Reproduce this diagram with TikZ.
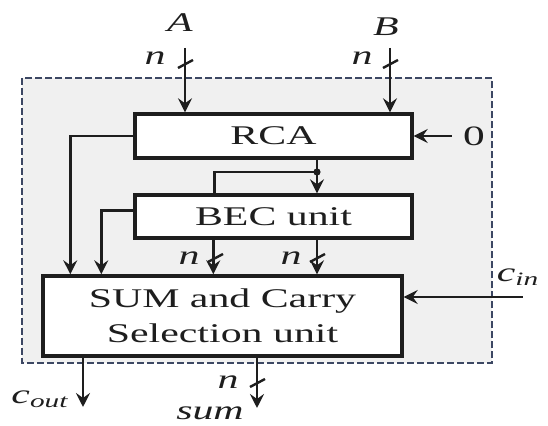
\documentclass[tikz,border=0pt]{standalone}
\usepackage{fontspec}
\setmainfont[FakeStretch=1.55]{Liberation Serif}
\usetikzlibrary{arrows.meta}
\definecolor{frameblue}{HTML}{3C4763}
\definecolor{panelgray}{HTML}{F0F0F0}
\definecolor{ink}{HTML}{1E1E1E}

\begin{document}
\begin{tikzpicture}[x=0.5pt, y=-0.5pt, line width=1.4pt, ink, >={Stealth[length=7pt,width=7pt,inset=2.5pt]}]
            \tikzstyle{block} = [draw, fill=white, line width=1.7pt, inner sep=0pt, align=center, font=\fontsize{13.5}{17.5}\selectfont]
            \tikzstyle{lbl}   = [inner sep=0pt, font=\fontsize{13.5}{15}\selectfont\itshape]
            \tikzstyle{bus}   = [line width=1.2pt]

            \useasboundingbox (0,0) rectangle (548,426);

            % Dashed frame .........................
            \draw[frameblue, dash pattern=on 3.5pt off 1.5pt, line width=1.2pt, fill=panelgray] (22,78) rectangle (492,363);

            % Blocks .........................
            \node[block, minimum width=138.5pt, minimum height=22pt] (rca) at (273.5,136) {RCA};
            \node[block, minimum width=138.5pt, minimum height=21.5pt] (bec) at (273.5,216.5) {BEC unit};
            \node[block, minimum width=179.5pt, minimum height=40pt] (sum) at (222.5,316) {SUM and Carry\\Selection unit};

            % Inputs A and B .........................
            \node[lbl] (A) at (180,23) {A};
            \node[lbl] (B) at (386,27) {B};
            \node[lbl] (na) at (155,58) {n};
            \node[lbl] (nb) at (362,58) {n};
            \coordinate (ain) at (185,48);
            \coordinate (bin) at (390,48);
            \draw[->] (ain) -- (rca.north -| ain);
            \draw[->] (bin) -- (rca.north -| bin);
            \draw[bus] (178,68) -- (193,60);
            \draw[bus] (383,68) -- (398,60);

            \node[inner sep=5pt, font=\fontsize{14}{15}\selectfont] (zero) at (474,136) {0};
            \draw[->] (zero.west) -- (rca.east);

            % RCA outputs .........................
            \draw[->] (rca.west) -| ([xshift=14.5pt]sum.north west);
            \coordinate (tap) at (317,172);
            \draw[->] (rca.south -| tap) -- (bec.north -| tap);
            \fill (tap) circle (1.8pt);
            \draw (tap) -| ([xshift=40.5pt]bec.north west);

            % BEC outputs .........................
            \draw[->] ([yshift=3pt]bec.west) -| ([xshift=30pt]sum.north west);
            \draw[->] ([xshift=40pt]bec.south west) -- ([xshift=40pt]bec.south west |- sum.north);
            \draw[->] (bec.south -| tap) -- (sum.north -| tap);
            \draw[bus] (208,262) -- (223,254);
            \draw[bus] (310,262) -- (325,254);
            \node[lbl] (n1) at (189,258) {n};
            \node[lbl] (n2) at (291,258) {n};

            % Carry in, carry out, sum .........................
            \node[lbl] (cin) at (518,277) {c\textsubscript{in}};
            \coordinate (cinsrc) at (523,297);
            \draw[->] (cinsrc) -- (sum.east |- cinsrc);

            \coordinate (coutend) at (83,407);
            \draw[->] (sum.south -| coutend) -- (coutend);
            \node[lbl] (cout) at (40,399) {c\textsubscript{out}};

            \coordinate (sumend) at (257,408);
            \draw[->] (sum.south -| sumend) -- (sumend);
            \draw[bus] (250,387) -- (265,379);
            \node[lbl] (ns) at (228,382) {n};
            \node[lbl] (sumlbl) at (210,413) {sum};

        \end{tikzpicture}
\end{document}
